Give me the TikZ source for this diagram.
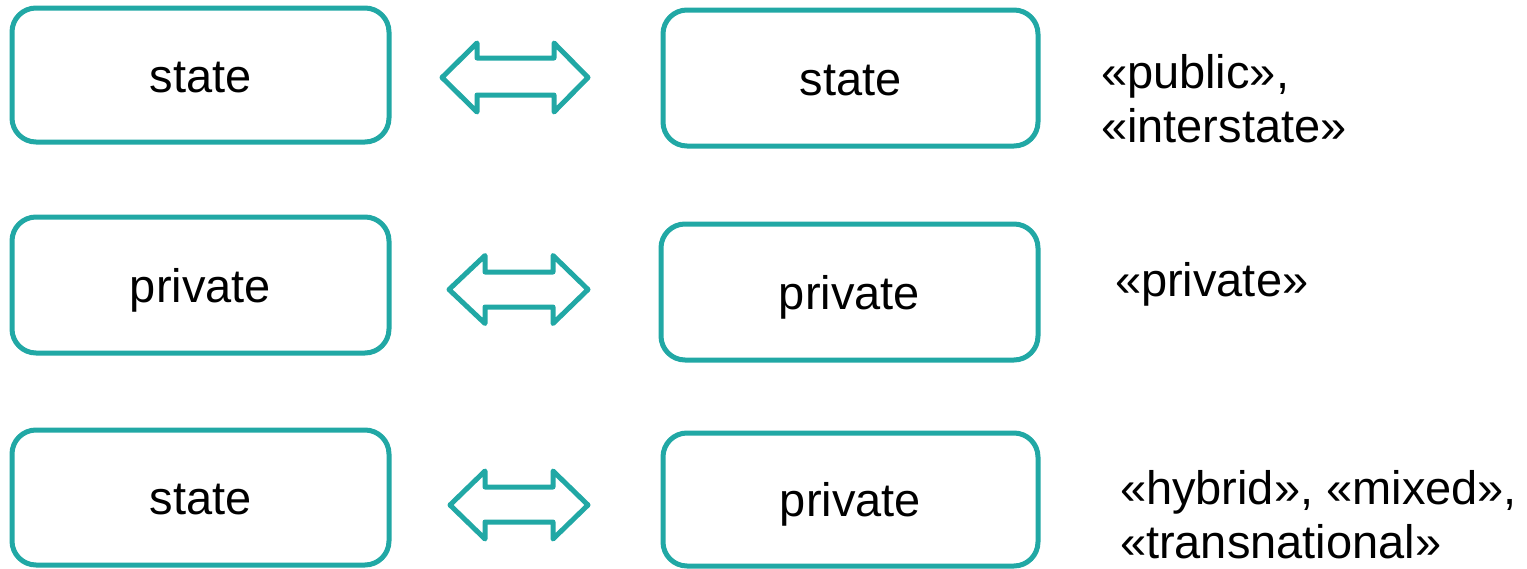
\documentclass[tikz,border=0pt]{standalone}
\usepackage{fontspec}
\setmainfont{Liberation Sans}
\definecolor{teal1}{RGB}{33,168,165}
\begin{document}
\begin{tikzpicture}[x=1pt,y=-1pt,
  box/.style={draw=teal1,line width=5pt,rounded corners=24pt,fill=white,
    inner sep=0pt,outer sep=0pt,font=\fontsize{47}{54}\selectfont,
    text height=34pt,text depth=0pt},
  dbl/.style={draw=teal1,line width=5pt,line join=round,fill=white},
  note/.style={inner sep=0pt,outer sep=0pt,anchor=base west,align=left,
    font=\fontsize{47}{54}\selectfont}]
\useasboundingbox (0,0) rectangle (1527,568);
% left column
\node[box,minimum width=377pt,minimum height=134pt] (l1) at (200.5,75) {state};
\node[box,minimum width=377pt,minimum height=136pt] (l2) at (200.5,285) {private};
\node[box,minimum width=377pt,minimum height=135pt] (l3) at (200.5,497.5) {state};
% right column
\node[box,minimum width=375pt,minimum height=136pt] (r1) at (850.5,78) {state};
\node[box,minimum width=377pt,minimum height=136pt] (r2) at (849.5,292) {private};
\node[box,minimum width=375pt,minimum height=133pt] (r3) at (850.5,499.5) {private};
% double arrows
\draw[dbl] (442,77.5) -- (477,43) -- (477,58) -- (554,58) -- (554,43) -- (588,77.5)
  -- (554,112) -- (554,95) -- (477,95) -- (477,112) -- cycle;
\draw[dbl] (449,289.5) -- (485,255.5) -- (485,272) -- (553,272) -- (553,255.5) -- (588,289.5)
  -- (553,323.5) -- (553,307) -- (485,307) -- (485,323.5) -- cycle;
\draw[dbl] (450,505) -- (485,471) -- (485,487) -- (553,487) -- (553,471) -- (588,505)
  -- (553,539) -- (553,522) -- (485,522) -- (485,539) -- cycle;
% notes (base anchor = baseline of the last line)
\node[note] (n1) at (1101,142) {«public»,\\«interstate»};
\node[note] (n2) at (1115,296) {«private»};
\node[note] (n3) at (1120,558) {«hybrid», «mixed»,\\«transnational»};
\end{tikzpicture}
\end{document}
